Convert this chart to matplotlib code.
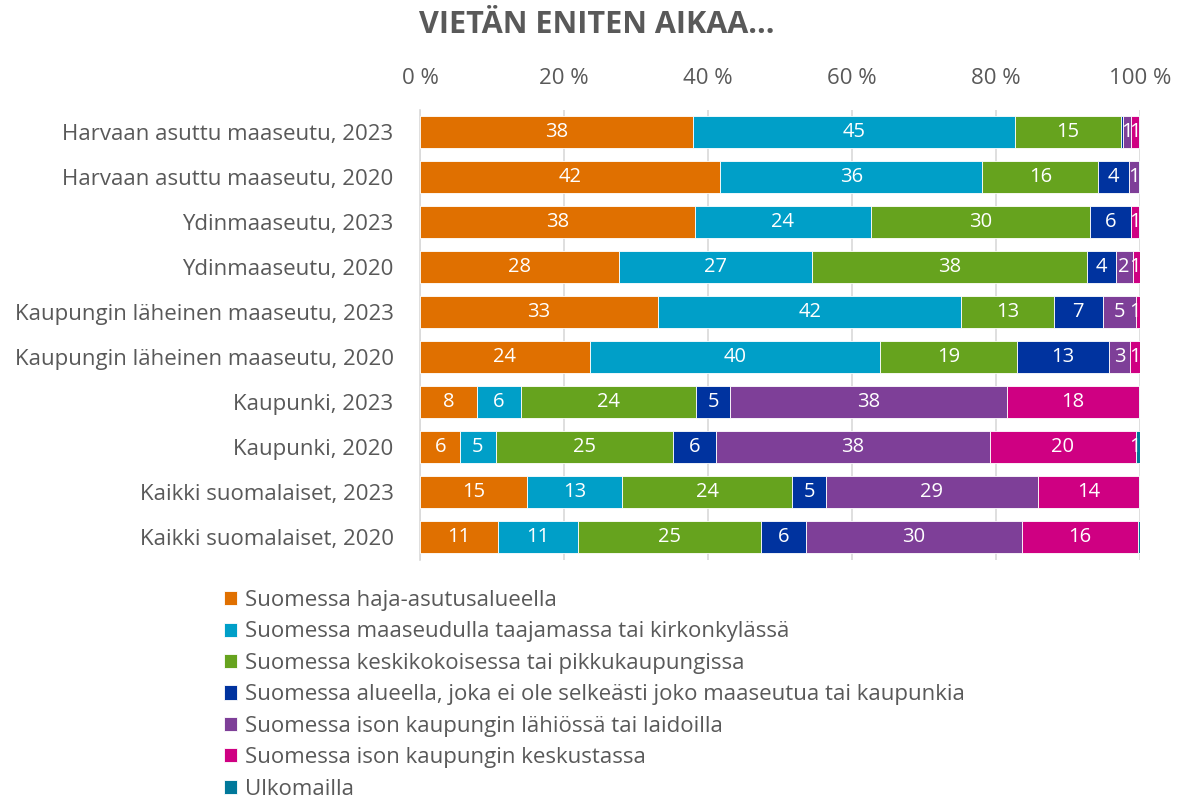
import matplotlib
matplotlib.use("Agg")
import matplotlib.pyplot as plt
import numpy as np

plt.rcParams['font.family'] = ['Open Sans', 'DejaVu Sans']

categories = [
    "Harvaan asuttu maaseutu, 2023",
    "Harvaan asuttu maaseutu, 2020",
    "Ydinmaaseutu, 2023",
    "Ydinmaaseutu, 2020",
    "Kaupungin läheinen maaseutu, 2023",
    "Kaupungin läheinen maaseutu, 2020",
    "Kaupunki, 2023",
    "Kaupunki, 2020",
    "Kaikki suomalaiset, 2023",
    "Kaikki suomalaiset, 2020",
]

series_names = [
    "Suomessa haja-asutusalueella",
    "Suomessa maaseudulla taajamassa tai kirkonkylässä",
    "Suomessa keskikokoisessa tai pikkukaupungissa",
    "Suomessa alueella, joka ei ole selkeästi joko maaseutua tai kaupunkia",
    "Suomessa ison kaupungin lähiössä tai laidoilla",
    "Suomessa ison kaupungin keskustassa",
    "Ulkomailla",
]

haja       = [37.9, 41.7, 38.2, 27.6, 33.1, 23.6, 7.9, 5.6, 14.9, 10.8]
taajama    = [44.8, 36.4, 24.4, 26.8, 42.1, 40.4, 6.1, 4.9, 13.2, 11.2]
keskikoko  = [14.6, 16.1, 30.4, 38.3, 12.8, 19.0, 24.4, 24.7, 23.6, 25.4]
valimuoto  = [0.3, 4.3, 5.8, 3.9, 6.8, 12.8, 4.7, 5.9, 4.7, 6.2]
lahio      = [1.2, 1.4, 0.0, 2.4, 4.6, 2.9, 38.4, 38.1, 29.4, 30.0]
keskusta   = [1.1, 0.0, 1.1, 1.0, 0.6, 1.4, 18.4, 20.2, 14.1, 16.1]
ulkomailla = [0.1, 0.1, 0.1, 0.0, 0.0, 0.0, 0.1, 0.6, 0.1, 0.3]

colors = ["#E07000", "#009FC8", "#66A31E", "#00339F", "#7E3F98", "#CF0082", "#00789A"]

data = np.array([haja, taajama, keskikoko, valimuoto, lahio, keskusta, ulkomailla], dtype=float)
shares = data / data.sum(axis=0) * 100

fig = plt.figure(figsize=(11.81, 8.02), dpi=100)
ax = fig.add_axes([420/1181, 1-559.5/802, 720/1181, 450/802])

txt_color = "#595959"
y = np.arange(len(categories))
left = np.zeros(len(categories))
handles = []
last = len(series_names) - 1
for i, (name, col) in enumerate(zip(series_names, colors)):
    b = ax.barh(y, shares[i], left=left, height=0.69, color=col,
                edgecolor="white", linewidth=0.6, label=name, zorder=3)
    handles.append(b)
    for j in range(len(categories)):
        v = data[i, j]
        if v >= 0.5:
            xc = min(left[j] + shares[i, j] / 2, 99.3)
            ax.text(xc, y[j], f"{v:.0f}",
                    ha="center", va="center", color="white", fontsize=14.5,
                    zorder=4, clip_on=(i == last))
    left += shares[i]

ax.set_xlim(0, 100)
ax.set_ylim(len(categories) - 0.5, -0.5)
ax.set_yticks(y)
ax.set_yticklabels(categories, fontsize=16, color=txt_color)
ax.set_xticks(np.arange(0, 101, 20))
ax.set_xticklabels([f"{t} %" for t in range(0, 101, 20)], fontsize=16, color=txt_color)
ax.xaxis.tick_top()
ax.tick_params(axis="both", length=0)
ax.tick_params(axis="x", pad=15)
ax.tick_params(axis="y", pad=19)
for s in ["top", "right", "bottom"]:
    ax.spines[s].set_visible(False)
ax.spines["left"].set_color("#D9D9D9")
ax.spines["left"].set_linewidth(1.2)
ax.grid(axis="x", color="#D9D9D9", linewidth=1.2, zorder=0)
ax.set_axisbelow(True)

fig.text(597/1181, 1-25/802, "VIETÄN ENITEN AIKAA...", ha="center", va="center",
         fontsize=22, fontweight="bold", color=txt_color)

fig.legend(handles=handles, labels=series_names, loc="upper left",
           bbox_to_anchor=(224/1181, 1-590/802), frameon=False,
           fontsize=16, labelcolor=txt_color, handlelength=0.6, handleheight=0.6,
           handletextpad=0.36, labelspacing=0.47, borderpad=0, borderaxespad=0)

fig.savefig("out.png", dpi=100)
